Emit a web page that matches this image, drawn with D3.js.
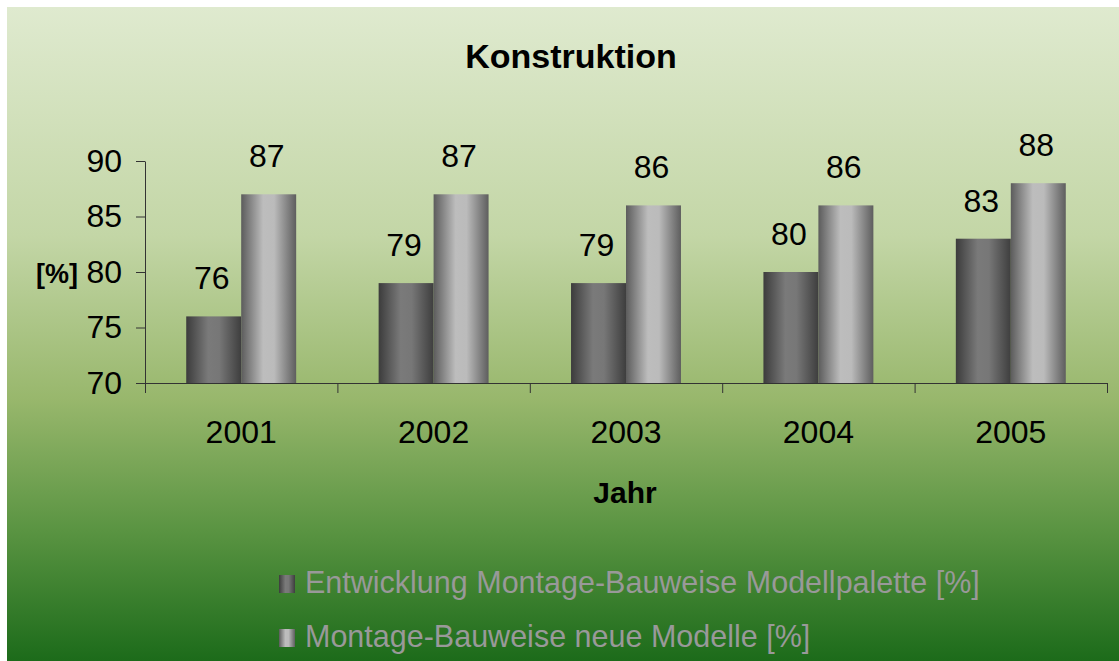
<!DOCTYPE html>
<html>
<head>
<meta charset="utf-8">
<title>Konstruktion</title>
<script src="https://d3js.org/d3.v7.min.js"></script>
<style>
  html, body { margin: 0; padding: 0; background: #fff; }
  svg { display: block; font-family: "Liberation Sans", Arial, sans-serif; }
</style>
</head>
<body>
<div id="chart"></div>
<script>
// chart data
var years = ['2001', '2002', '2003', '2004', '2005'];
var seriesNames = ['Entwicklung Montage-Bauweise Modellpalette [%]', 'Montage-Bauweise neue Modelle [%]'];
var palette = [76, 79, 79, 80, 83];
var newModels = [87, 87, 86, 86, 88];
var yTicks = [70, 75, 80, 85, 90];

var width = 1119, height = 661;
var svg = d3.select('#chart').append('svg')
    .attr('width', width)
    .attr('height', height);

var defs = svg.append('defs');

// green background, light at top
var bg = defs.append('linearGradient').attr('id', 'bg')
    .attr('x1', 0).attr('y1', 0).attr('x2', 0).attr('y2', 1);
[[0, '#dfeacf'], [0.35, '#c3d6a6'], [0.6, '#98b76c'], [0.8, '#5a9442'], [1, '#1c6b1a']]
    .forEach(function (s) { bg.append('stop').attr('offset', s[0]).attr('stop-color', s[1]); });

// cylinder-ish shading for the bars
function barGrad(id, stops) {
    var g = defs.append('linearGradient').attr('id', id)
        .attr('x1', 0).attr('y1', 0).attr('x2', 1).attr('y2', 0);
    stops.forEach(function (s) { g.append('stop').attr('offset', s[0]).attr('stop-color', s[1]); });
}
barGrad('g0', [[0, '#3c3c3c'], [0.4, '#7a7a7a'], [0.6, '#777'], [1, '#3e3e3e']]);
barGrad('g1', [[0, '#5c5c5c'], [0.4, '#bdbdbd'], [0.6, '#bbb'], [1, '#5e5e5e']]);

svg.append('rect')
    .attr('x', 7).attr('y', 7)
    .attr('width', width - 7).attr('height', height - 7)
    .attr('fill', 'url(#bg)');

// plot box (window.top is read-only, so no plain "top")
var plotL = 145, plotR = 1107, plotT = 161, plotB = 383;

var y = d3.scaleLinear().domain([70, 90]).range([plotB, plotT]);
var x = d3.scaleBand().domain(years).range([plotL, plotR]);
var xs = d3.scaleBand().domain([0, 1]).range([0, x.bandwidth()]).paddingOuter(0.75);

// title
svg.append('text')
    .attr('x', 571).attr('y', 68)
    .attr('text-anchor', 'middle')
    .attr('font-size', 34).attr('font-weight', 'bold')
    .text('Konstruktion');

// y axis
var yAxis = svg.append('g')
    .attr('transform', 'translate(' + plotL + ',0)')
    .call(d3.axisLeft(y).tickValues(yTicks).tickSize(9).tickSizeOuter(0).tickPadding(14));
yAxis.select('.domain').attr('stroke', '#333');
yAxis.selectAll('.tick line').attr('stroke', '#333');
yAxis.selectAll('.tick text')
    .attr('font-size', 32).attr('fill', '#000')
    .attr('font-family', '"Liberation Sans", Arial, sans-serif');

svg.append('text')
    .attr('x', 57).attr('y', 283)
    .attr('text-anchor', 'middle')
    .attr('font-size', 27).attr('font-weight', 'bold')
    .text('[%]');

// bars
var groups = svg.selectAll('.year')
    .data(years)
    .enter().append('g')
    .attr('transform', function (d) { return 'translate(' + x(d) + ',0)'; });

var allSeries = [palette, newModels];
groups.each(function (d, i) {
    var g = d3.select(this);
    allSeries.forEach(function (vals, s) {
        g.append('rect')
            .attr('x', xs(s))
            .attr('y', y(vals[i]))
            .attr('width', xs.bandwidth())
            .attr('height', plotB - y(vals[i]))
            .attr('fill', 'url(#g' + s + ')');
        g.append('text')
            .attr('x', xs(s) + xs.bandwidth() / 2 - 2)
            .attr('y', y(vals[i]) - 27)
            .attr('text-anchor', 'middle')
            .attr('font-size', 32)
            .text(vals[i]);
    });
});

// x axis: ticks sit between the categories
var edges = d3.scaleLinear().domain([0, years.length]).range([plotL, plotR]);
var xTicks = svg.append('g')
    .attr('transform', 'translate(0,' + plotB + ')')
    .call(d3.axisBottom(edges).tickValues(d3.range(years.length + 1)).tickSize(10).tickSizeOuter(0).tickFormat(''));
xTicks.select('.domain').attr('stroke', '#333');
xTicks.selectAll('.tick line').attr('stroke', '#333');

var xLabels = svg.append('g')
    .attr('transform', 'translate(0,' + plotB + ')')
    .call(d3.axisBottom(x).tickSize(0).tickPadding(37));
xLabels.select('.domain').remove();
xLabels.selectAll('.tick text')
    .attr('font-size', 32).attr('fill', '#000')
    .attr('font-family', '"Liberation Sans", Arial, sans-serif');

svg.append('text')
    .attr('x', 625).attr('y', 503)
    .attr('text-anchor', 'middle')
    .attr('font-size', 30).attr('font-weight', 'bold')
    .text('Jahr');

// legend
var legend = svg.selectAll('.legend')
    .data(seriesNames)
    .enter().append('g')
    .attr('transform', function (d, i) { return 'translate(279,' + (593 + i * 54) + ')'; });
legend.append('rect')
    .attr('x', 0).attr('y', -18)
    .attr('width', 16).attr('height', 18)
    .attr('fill', function (d, i) { return 'url(#g' + i + ')'; });
legend.append('text')
    .attr('x', 26).attr('y', 0)
    .attr('font-size', 30.5)
    .attr('fill', '#999')
    .text(function (d) { return d; });
</script>
</body>
</html>
